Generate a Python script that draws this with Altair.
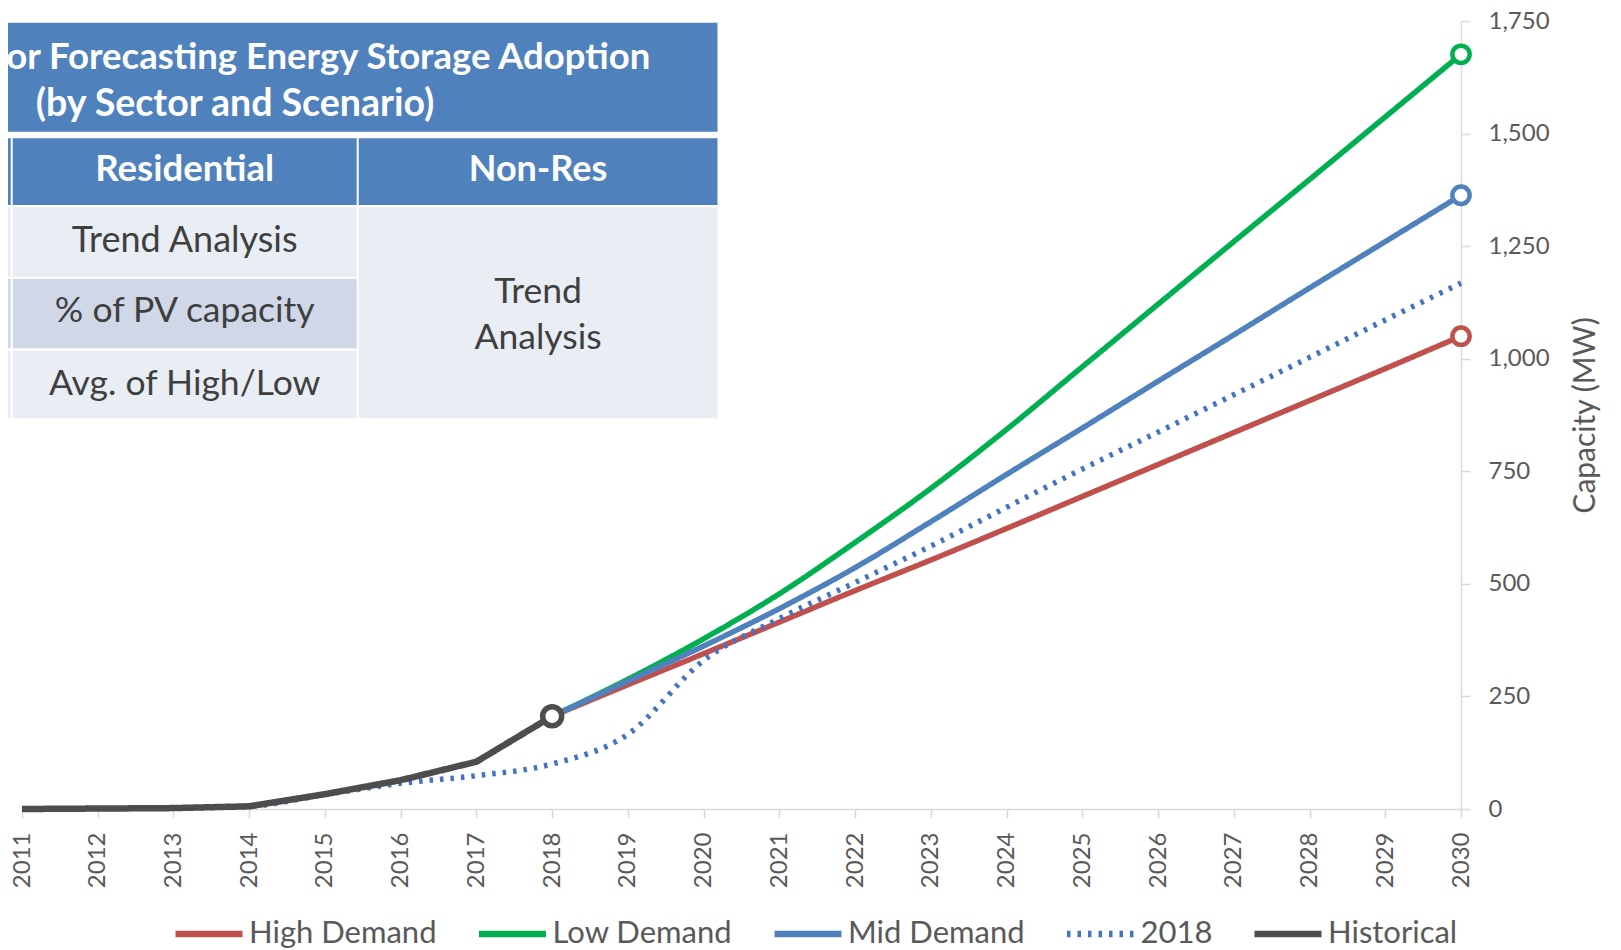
import altair as alt
import pandas as pd

# ---------------- data ----------------
series_names = ["High Demand", "Low Demand", "Mid Demand", "2018", "Historical"]
series_colors = ["#C0504D", "#00B050", "#4F81BD", "#4472C4", "#4D4D4D"]

hist_years = [2011, 2012, 2013, 2014, 2015, 2016, 2017, 2018]
hist_values = [0, 1, 2, 6, 33, 64, 105, 206]

proj_years = list(range(2018, 2031))
high_values = [206, 276, 345, 415, 485, 553, 623, 694, 765, 836, 907, 978, 1050]
low_values = [206, 288, 378, 478, 592, 712, 843, 982, 1121, 1260, 1398, 1537, 1676]
mid_values = [206, 284, 362, 445, 536, 638, 743, 846, 950, 1053, 1157, 1260, 1363]

f2018_years = list(range(2011, 2031))
f2018_values = [0, 1, 2, 6, 32, 57, 74, 100, 166, 330, 423, 503, 584, 670, 755,
                837, 920, 1003, 1086, 1168]

year_ticks = list(range(2011, 2031))
mw_ticks = [0, 250, 500, 750, 1000, 1250, 1500, 1750]

table_title = ["Methods for Forecasting Energy Storage Adoption", "(by Sector and Scenario)"]
header_labels = ["Residential", "Non-Res"]
res_methods = ["Trend Analysis", "% of PV capacity", "Avg. of High/Low"]
nonres_method = ["Trend", "Analysis"]

# ---------------- frames ----------------
rows = []
for y, v in zip(proj_years, high_values):
    rows.append({"series": "High Demand", "year": y, "mw": v})
for y, v in zip(proj_years, low_values):
    rows.append({"series": "Low Demand", "year": y, "mw": v})
for y, v in zip(proj_years, mid_values):
    rows.append({"series": "Mid Demand", "year": y, "mw": v})
for y, v in zip(f2018_years, f2018_values):
    rows.append({"series": "2018", "year": y, "mw": v})
proj_df = pd.DataFrame(rows)
hist_df = pd.DataFrame({"series": "Historical", "year": hist_years, "mw": hist_values})

proj_end_df = pd.DataFrame([
    {"series": "High Demand", "year": proj_years[-1], "mw": high_values[-1]},
    {"series": "Low Demand", "year": proj_years[-1], "mw": low_values[-1]},
    {"series": "Mid Demand", "year": proj_years[-1], "mw": mid_values[-1]},
])
hist_end_df = pd.DataFrame([
    {"series": "Historical", "year": hist_years[-1], "mw": hist_values[-1]},
])

FONT = "Lato"
GREY = "#595959"
AXIS_GREY = "#D9D9D9"

x_enc = alt.X("year:Q",
              scale=alt.Scale(domain=[2011, 2030], nice=False, zero=False),
              axis=alt.Axis(values=year_ticks, format="d", labelAngle=270,
                            labelFontSize=24, labelColor=GREY, labelFont=FONT,
                            tickColor=AXIS_GREY, domainColor=AXIS_GREY,
                            tickSize=9, tickWidth=1.5, domainWidth=1.5,
                            labelPadding=14, labelFlush=False, labelOverlap=False,
                            grid=False, title=None))
y_enc = alt.Y("mw:Q",
              scale=alt.Scale(domain=[0, 1750], nice=False),
              axis=alt.Axis(orient="right", values=mw_ticks, format=",.0f",
                            labelFontSize=24, labelColor=GREY, labelFont=FONT,
                            tickColor=AXIS_GREY, domainColor=AXIS_GREY,
                            tickSize=9, tickWidth=1.5, domainWidth=1.5,
                            labelPadding=18, labelFlush=False, labelOverlap=False,
                            grid=False, title="Capacity (MW)", titleFontSize=30,
                            titleFont=FONT, titleFontWeight="normal", titleColor=GREY,
                            titleAngle=270, titleX=124, titleY=394,
                            titleAlign="center", titleBaseline="middle"))

color_scale = alt.Scale(domain=series_names, range=series_colors)
dash_scale = alt.Scale(domain=series_names,
                       range=[[1, 0], [1, 0], [1, 0], [3.5, 7], [1, 0]])

color_enc = alt.Color("series:N", scale=color_scale, sort=series_names, title=None)
dash_enc = alt.StrokeDash("series:N", scale=dash_scale, sort=series_names, title=None)
stroke_enc = alt.Stroke("series:N", scale=alt.Scale(domain=series_names, range=series_colors),
                        legend=None)

proj_lines = alt.Chart(proj_df).mark_line(
    strokeWidth=5.5, interpolate="monotone"
).encode(x=x_enc, y=y_enc, color=color_enc, strokeDash=dash_enc, detail="series:N")

hist_line = alt.Chart(hist_df).mark_line(
    strokeWidth=6.5, strokeJoin="round"
).encode(x=x_enc, y=y_enc, color=color_enc, strokeDash=dash_enc)

proj_points = alt.Chart(proj_end_df).mark_point(
    shape="circle", filled=True, fill="white", size=300, strokeWidth=4.5, opacity=1
).encode(x=x_enc, y=y_enc, stroke=stroke_enc)

hist_point = alt.Chart(hist_end_df).mark_point(
    shape="circle", filled=True, fill="white", size=360, strokeWidth=5.5, opacity=1
).encode(x=x_enc, y=y_enc, stroke=stroke_enc)

# ---------------- table overlay (layout in pixels of the plot area) ----------------
one = pd.DataFrame({"k": [0]})
BLUE = "#4F81BD"
LIGHT = "#E9EDF4"
DARK = "#D0D8E8"
OX, OY = 22, 21  # page position of the plot origin

def px(v):
    return v - OX

def py(v):
    return v - OY

cells = [
    (-40, 717.5, 22.7, 131.7, BLUE),     # title band
    (-40, 10.7, 138.3, 205, BLUE),       # header col0
    (12.7, 356.7, 138.3, 205, BLUE),     # header residential
    (358.7, 717.5, 138.3, 205, BLUE),    # header non-res
    (-40, 10.7, 207.3, 276.7, LIGHT),
    (12.7, 356.7, 207.3, 276.7, LIGHT),
    (-40, 10.7, 278.7, 348.3, DARK),
    (12.7, 356.7, 278.7, 348.3, DARK),
    (-40, 10.7, 350.7, 418.3, LIGHT),
    (12.7, 356.7, 350.7, 418.3, LIGHT),
    (358.7, 717.5, 207.3, 418.3, LIGHT),  # merged non-res cell
]
table_layers = []
for x1, x2, y1, y2, c in cells:
    table_layers.append(
        alt.Chart(one).mark_rect(color=c).encode(
            x=alt.value(px(x1)), x2=alt.value(px(x2)),
            y=alt.value(py(y1)), y2=alt.value(py(y2)))
    )

def txt(text, x, y, size, color, weight="normal", lh=None):
    kw = dict(align="center", baseline="alphabetic", font=FONT, fontSize=size,
              color=color, fontWeight=weight)
    if lh is not None:
        kw["lineHeight"] = lh
    return alt.Chart(one).mark_text(**kw).encode(
        x=alt.value(px(x)), y=alt.value(py(y)), text=alt.value(text))

DARKTXT = "#3F3F3F"
table_layers += [
    txt(table_title[0], 245, 68.5, 36.5, "white", "bold"),
    txt(table_title[1], 235, 116, 37.5, "white", "bold"),
    txt(header_labels[0], 184.7, 181, 36.5, "white", "bold"),
    txt(header_labels[1], 538, 181, 36, "white", "bold"),
    txt(res_methods[0], 184.7, 251.7, 36, DARKTXT),
    txt(res_methods[1], 184.7, 321.7, 35.5, DARKTXT),
    txt(res_methods[2], 184.7, 395, 35.5, DARKTXT),
    txt(nonres_method, 538, 302.5, 35.5, DARKTXT, "normal", 46.5),
]

chart = alt.layer(
    proj_lines, hist_line, proj_points, hist_point, *table_layers
).resolve_scale(
    stroke="independent"
).properties(
    width=1439, height=788,
    autosize=alt.AutoSizeParams(type="none"),
    padding={"left": 14, "top": 13, "right": 152, "bottom": 141},
).configure(
    font=FONT
).configure_view(
    stroke=None
).configure_legend(
    orient="none", legendX=150, legendY=876, direction="horizontal",
    symbolType="stroke", symbolSize=4489, symbolStrokeWidth=6.5,
    labelFontSize=31, labelFont=FONT, labelColor=GREY, labelOffset=3,
    labelLimit=0, columnPadding=28.5, padding=0, titlePadding=0
)

chart.save("out.html", embed_options={"renderer": "svg", "actions": False})
